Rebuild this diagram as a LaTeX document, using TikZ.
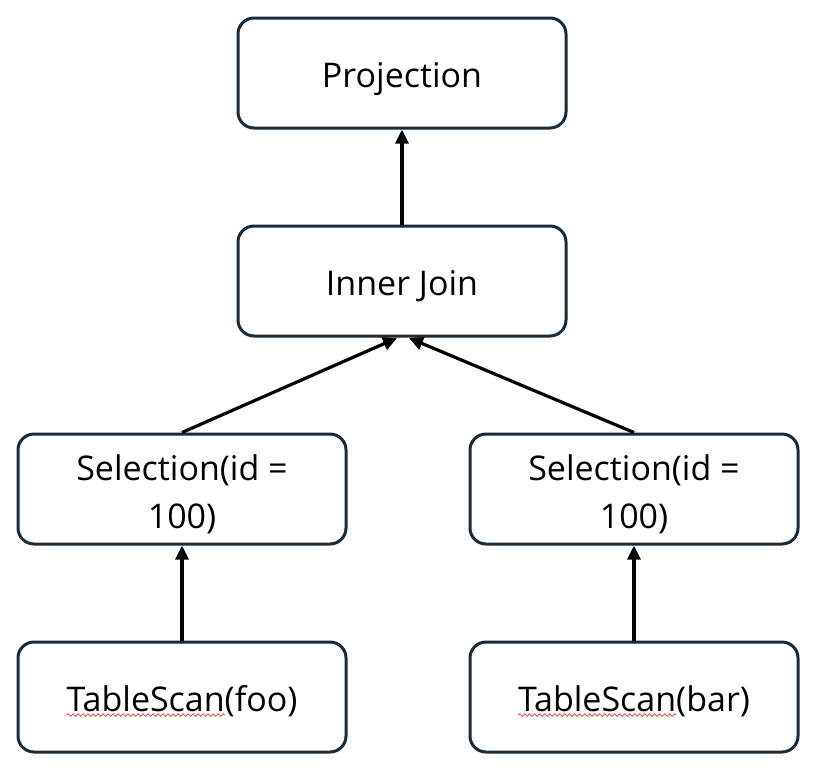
\documentclass[tikz,border=0pt]{standalone}
\usepackage{fontspec}
\setmainfont{Open Sans}
\usetikzlibrary{arrows.meta,decorations.pathmorphing}
\definecolor{boxline}{HTML}{172B3A}
\definecolor{spell}{HTML}{D9413A}
\newcommand\labelfont{\fontsize{34}{48}\selectfont}
\newlength\tsw
\newlength\fullfoo
\newlength\fullbar
\tikzset{
  opbox/.style={draw=boxline, line width=3pt, rounded corners=16pt, minimum width=328pt, minimum height=110pt, inner sep=0pt, align=center, font=\labelfont, text height=28pt, text depth=0pt},
  twoline/.style={text height=78pt, text depth=0pt},
  flow/.style={draw=black, line width=3.2pt, -{Triangle[length=14pt,width=13pt]}},
  squig/.style={draw=spell, line width=0.8pt, decorate, decoration={snake, amplitude=1.3pt, segment length=5pt}}
}
\begin{document}
\settowidth\tsw{\labelfont TableScan}%
\settowidth\fullfoo{\labelfont TableScan(foo)}%
\settowidth\fullbar{\labelfont TableScan(bar)}%
\pgfmathsetmacro\uLa{182-0.5*\fullfoo}%
\pgfmathsetmacro\uLb{\uLa+\tsw}%
\pgfmathsetmacro\uRa{634-0.5*\fullbar}%
\pgfmathsetmacro\uRb{\uRa+\tsw}%
\begin{tikzpicture}[x=1pt,y=-1pt]
\useasboundingbox (0,0) rectangle (828,772);
\node[opbox] (proj) at (402,73) {Projection};
\node[opbox] (join) at (402,281) {Inner Join};
\node[opbox, twoline] (selL) at (182,489) {Selection(id =\\100)};
\node[opbox, twoline] (selR) at (634,489) {Selection(id =\\100)};
\node[opbox] (scanL) at (182,697) {TableScan(foo)};
\node[opbox] (scanR) at (634,697) {TableScan(bar)};
\coordinate (inL) at (397,338);
\coordinate (inR) at (409,338);
\draw[flow] (join.north) -- (proj.south);
\draw[flow] (selL.north) -- (inL);
\draw[flow] (selR.north) -- (inR);
\draw[flow] (scanL.north) -- (selL.south);
\draw[flow] (scanR.north) -- (selR.south);
\coordinate (wLa) at (\uLa,715);
\coordinate (wLb) at (\uLb,715);
\coordinate (wRa) at (\uRa,715);
\coordinate (wRb) at (\uRb,715);
\draw[squig] (wLa) -- (wLb);
\draw[squig] (wRa) -- (wRb);
\end{tikzpicture}
\end{document}
